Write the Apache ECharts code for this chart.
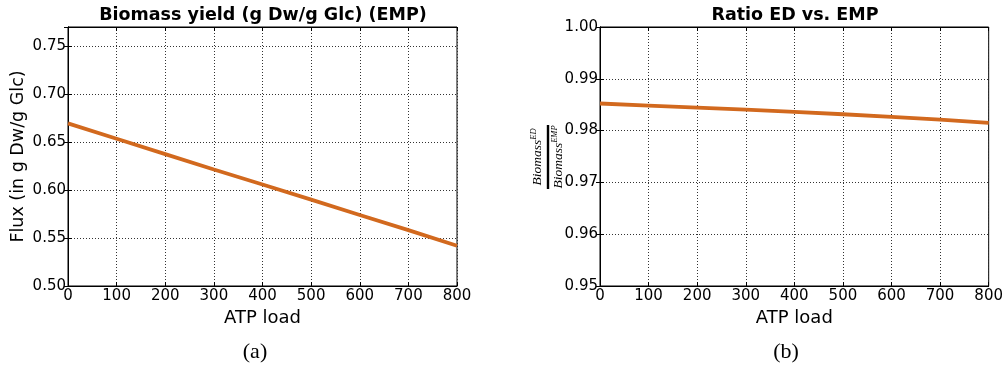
<!DOCTYPE html>
<html>
<head>
<meta charset="utf-8">
<script src="https://cdn.jsdelivr.net/npm/echarts@6/dist/echarts.min.js"></script>
<style>html,body{margin:0;padding:0;background:#fff}#c{width:1006px;height:368px}</style>
</head>
<body>
<div id="c"></div>
<script>
// ATP load values (x axis, shared by both panels)
const atpLoad = [0, 100, 200, 300, 400, 500, 600, 700, 800];
// Panel (a): biomass yield of the EMP pathway
const biomassYieldEMP = [0.6695, 0.6535, 0.6375, 0.6215, 0.6058, 0.5900, 0.5740, 0.5582, 0.5420];
// Panel (b): ratio of ED to EMP biomass yields
const ratioEDvsEMP = [0.98523, 0.98484, 0.98445, 0.98406, 0.98361, 0.98316, 0.98265, 0.98213, 0.98148];
const titleA = 'Biomass yield (g Dw/g Glc) (EMP)';
const titleB = 'Ratio ED vs. EMP';
const captionA = '(a)';
const captionB = '(b)';

const FONT = 'DejaVu Sans';
const LINE_COLOR = '#d2691e';

function pairs(xs, ys) { return xs.map((x, i) => [x, ys[i]]); }

function xAxes(gi) {
  const base = {
    type: 'value', gridIndex: gi, min: 0, max: 800, interval: 100,
    axisLine: { show: true, lineStyle: { color: '#000', width: 1 } },
    axisTick: { show: true, inside: true, length: 4, lineStyle: { color: '#000' } },
    splitLine: { show: true, lineStyle: { color: '#333', type: [1, 2], width: 1 } }
  };
  return [
    Object.assign({}, base, {
      position: 'bottom',
      axisLabel: { color: '#000', fontFamily: FONT, fontSize: 15, margin: 3 },
      name: 'ATP load', nameLocation: 'middle', nameGap: gi === 0 ? 23 : 19,
      nameTextStyle: { color: '#000', fontFamily: FONT, fontSize: 18 }
    }),
    Object.assign({}, base, { position: 'top', axisLabel: { show: false }, splitLine: { show: false } })
  ];
}

function yAxes(gi, min, max, interval, name) {
  const base = {
    type: 'value', gridIndex: gi, min: min, max: max, interval: interval,
    axisLine: { show: true, lineStyle: { color: '#000', width: 1 } },
    axisTick: { show: true, inside: true, length: 4, lineStyle: { color: '#000' } },
    splitLine: { show: true, lineStyle: { color: '#333', type: [1, 2], width: 1 } }
  };
  const left = Object.assign({}, base, {
    position: 'left',
    axisLabel: {
      color: '#000', fontFamily: FONT, fontSize: 15, margin: 2,
      formatter: v => v.toFixed(2)
    }
  });
  if (name) {
    Object.assign(left, {
      name: name, nameLocation: 'middle', nameGap: 41, nameRotate: 90,
      nameTextStyle: { color: '#000', fontFamily: FONT, fontSize: 17.5 }
    });
  }
  return [left, Object.assign({}, base, { position: 'right', axisLabel: { show: false }, splitLine: { show: false } })];
}

const xa = xAxes(0), xb = xAxes(1);
// panel (a) axis stops at 0.77; only the 0.05 steps carry labels
const ya = yAxes(0, 0.50, 0.77, 0.05, 'Flux (in g Dw/g Glc)');
ya[0].axisLabel.showMaxLabel = false;
ya[0].splitLine.showMaxLine = false;
const yb = yAxes(1, 0.95, 1.00, 0.01, null);

const chart = echarts.init(document.getElementById('c'), null, { renderer: 'canvas' });

const supRich = {
  b: { fontFamily: 'Liberation Serif', fontStyle: 'italic', fontSize: 13.5, color: '#000' },
  s: { fontFamily: 'Liberation Serif', fontStyle: 'italic', fontSize: 8.5, color: '#000', verticalAlign: 'top', padding: [0, 0, 8, 0] }
};

function txt(text, x, y, font, size, weight) {
  return { type: 'text', x: x, y: y,
    style: { text: text, fontFamily: font, fontSize: size, fontWeight: weight || 'normal',
      fill: '#000', align: 'center', verticalAlign: 'middle' } };
}

chart.setOption({
  animation: false,
  backgroundColor: '#fff',
  grid: [
    { left: 68, right: 549, top: 27, bottom: 82, show: true, borderColor: '#000', borderWidth: 1 },
    { left: 600, right: 17, top: 27, bottom: 82, show: true, borderColor: '#000', borderWidth: 1 }
  ],
  xAxis: [xa[0], xa[1], xb[0], xb[1]],
  yAxis: [ya[0], ya[1], yb[0], yb[1]],
  series: [
    { type: 'line', xAxisIndex: 0, yAxisIndex: 0, data: pairs(atpLoad, biomassYieldEMP),
      showSymbol: false, smooth: false, lineStyle: { color: LINE_COLOR, width: 3.8 } },
    { type: 'line', xAxisIndex: 2, yAxisIndex: 2, data: pairs(atpLoad, ratioEDvsEMP),
      showSymbol: false, smooth: false, lineStyle: { color: LINE_COLOR, width: 3.8 } }
  ],
  graphic: [
    txt(titleA, 263, 15, FONT, 17.5, 'bold'),
    txt(titleB, 795, 15, FONT, 17.5, 'bold'),
    txt(captionA, 255, 352, 'Liberation Serif', 22),
    txt(captionB, 786, 352, 'Liberation Serif', 22),
    {
      type: 'group', x: 548, y: 157, rotation: Math.PI / 2,
      children: [
        { type: 'text', x: 0, y: -2,
          style: { text: '{b|Biomass}{s|ED}', rich: supRich, align: 'center', verticalAlign: 'bottom' } },
        { type: 'rect', shape: { x: -32, y: -1.2, width: 64, height: 2.4 }, style: { fill: '#000' } },
        { type: 'text', x: 0, y: 2,
          style: { text: '{b|Biomass}{s|EMP}', rich: supRich, align: 'center', verticalAlign: 'top' } }
      ]
    }
  ]
});
</script>
</body>
</html>
